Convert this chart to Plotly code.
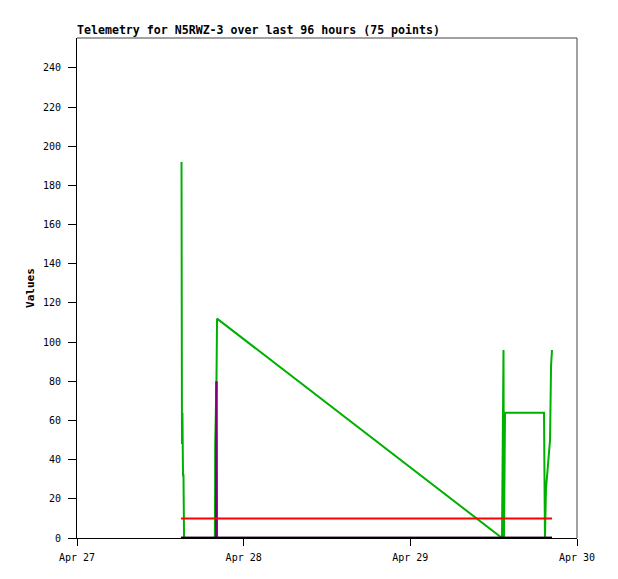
import plotly.graph_objects as go

# ---- data ----
green_times = [
    "2024-04-27 15:03", "2024-04-27 15:07", "2024-04-27 15:11", "2024-04-27 15:16",
    "2024-04-27 15:20", "2024-04-27 15:25", "2024-04-27 19:51", "2024-04-27 19:53",
    "2024-04-27 19:54", "2024-04-27 20:05", "2024-04-27 20:10", "2024-04-29 13:12",
    "2024-04-29 13:25", "2024-04-29 13:29", "2024-04-29 13:34", "2024-04-29 13:38",
    "2024-04-29 19:15", "2024-04-29 19:18", "2024-04-29 19:23", "2024-04-29 19:32",
    "2024-04-29 19:41", "2024-04-29 19:49", "2024-04-29 19:58", "2024-04-29 20:07",
    "2024-04-29 20:16", "2024-04-29 20:24",
]
green_values = [192, 48, 64, 32, 32, 0, 0, 24, 48, 80, 112, 0,
                96, 0, 21, 64, 64, 48, 0, 25, 32, 39, 45, 50, 88, 96]

purple_times = ["2024-04-27 14:59", "2024-04-27 20:03", "2024-04-27 20:05",
                "2024-04-27 20:07", "2024-04-29 20:24"]
purple_values = [0, 0, 80, 0, 0]

red_times = ["2024-04-27 14:59", "2024-04-29 20:24"]
red_values = [10, 10]

black_times = ["2024-04-27 14:59", "2024-04-29 20:24"]
black_values = [0, 0]

x_tick_vals = ["2024-04-27", "2024-04-28", "2024-04-29", "2024-04-30"]
x_tick_text = ["Apr 27", "Apr 28", "Apr 29", "Apr 30"]
y_tick_vals = list(range(0, 241, 20))

title_text = "Telemetry for N5RWZ-3 over last 96 hours (75 points)"
y_title = "Values"

FONT = "DejaVu Sans Mono"
W, H = 602, 563  # page body has an 8px margin

fig = go.Figure()
fig.add_trace(go.Scatter(x=green_times, y=green_values, mode="lines",
                         line=dict(color="#00b000", width=2), name="green"))
fig.add_trace(go.Scatter(x=purple_times, y=purple_values, mode="lines",
                         line=dict(color="#800080", width=2.5), name="purple"))
fig.add_trace(go.Scatter(x=red_times, y=red_values, mode="lines",
                         line=dict(color="#ff0000", width=2), name="red"))
fig.add_trace(go.Scatter(x=black_times, y=black_values, mode="lines",
                         line=dict(color="#000000", width=2.5), name="black"))

fig.update_layout(
    width=W, height=H,
    margin=dict(l=69, r=33, t=30, b=33),
    paper_bgcolor="white", plot_bgcolor="white",
    showlegend=False,
    font=dict(family=FONT, size=10, color="black"),
    title=dict(text=title_text, x=69 / W, xanchor="left", xref="container",
               y=1 - 22 / H, yanchor="middle", yref="container",
               font=dict(family=FONT, size=11.6, color="black", weight="bold")),
    xaxis=dict(range=["2024-04-27", "2024-04-30"], tickvals=x_tick_vals,
               ticktext=x_tick_text, ticks="outside", ticklen=7, tickcolor="black",
               ticklabelstandoff=3, automargin=False,
               showline=True, linecolor="black", linewidth=1, showgrid=False,
               zeroline=False, tickfont=dict(family=FONT, size=10)),
    yaxis=dict(range=[0, 255.3], tickvals=y_tick_vals, ticks="outside", ticklen=8,
               tickcolor="black", ticklabelstandoff=5, automargin=False,
               showline=True, linecolor="black", linewidth=1,
               showgrid=False, zeroline=False, tickfont=dict(family=FONT, size=10),
               title=dict(text=y_title, standoff=6,
                          font=dict(family=FONT, size=11, color="black", weight="bold"))),
)

# gray frame (top and right)
fig.add_shape(type="line", xref="paper", yref="paper", x0=0, x1=1, y0=1, y1=1,
              line=dict(color="#444444", width=1))
fig.add_shape(type="line", xref="paper", yref="paper", x0=1, x1=1, y0=0, y1=1,
              line=dict(color="#444444", width=1))

fig.write_html("out.html")
